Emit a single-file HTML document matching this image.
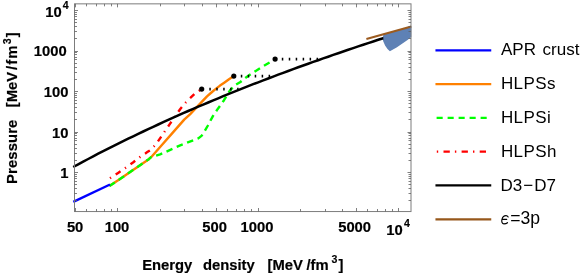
<!DOCTYPE html>
<html><head><meta charset="utf-8"><style>
html,body{margin:0;padding:0;background:#fff;}
svg{display:block;will-change:transform;}
text{font-family:"Liberation Sans",sans-serif;fill:#000;}
.b{font-weight:bold;font-size:14.8px;stroke:#000;stroke-width:0.18px;}
.s{font-weight:bold;font-size:10.6px;stroke:#000;stroke-width:0.15px;}
.l{font-size:17.0px;}
</style></head><body>
<svg width="581" height="274" viewBox="0 0 581 274">
<rect width="581" height="274" fill="#fff"/>
<!-- region -->
<polygon points="383.6,34.0 382.8,37.4 383.1,40.9 385.2,45.8 387.5,48.9 389.9,51.3 392.1,50.0 396.6,47.4 402.8,43.2 407.5,39.9 411.3,36.9 411.3,26.2" fill="#5E81B5"/>
<!-- curves -->
<polyline points="109.4,186.1 119.6,179.3 134.2,169.2 148.8,159.2 151.1,157.2 162.1,144.7 173.0,132.4 184.2,119.6 190.0,114.3 200.1,103.7 207.0,96.4 212.0,92.0 216.1,88.6 220.0,85.6 224.2,82.7 229.0,79.3 233.8,76.1" fill="none" stroke="#FF8000" stroke-width="2.4" stroke-linejoin="round"/>
<polyline points="109.4,186.1 119.6,179.3 134.2,169.2 148.8,159.2 151.1,157.2 160.1,154.4 180.2,145.4 198.3,138.4 201.5,135.9 203.7,132.7 207.6,126.0 212.9,116.1 216.9,110.2 224.0,100.2 230.0,90.3 234.6,85.5 240.4,82.0 246.0,77.4 260.1,68.1 275.1,59.1" fill="none" stroke="#00FF00" stroke-width="2.4" stroke-dasharray="6.5 4.7" stroke-linejoin="round"/>
<polyline points="110.0,178.2 118.1,172.9 125.4,167.9 133.0,162.5 140.0,157.0 147.3,152.1 150.0,150.3 156.1,144.1 170.1,123.6 180.1,109.2 186.0,102.2 190.0,98.2 195.1,93.4 201.7,89.1" fill="none" stroke="#FF0000" stroke-width="2.4" stroke-dasharray="1.2 5.6 5.8 5.4" stroke-linejoin="round"/>
<polyline points="73.3,201.8 110.0,184.5" fill="none" stroke="#0000FF" stroke-width="2.4"/>
<polyline points="73.2,167.0 78.2,164.3 83.2,161.6 88.2,159.0 93.2,156.3 98.2,153.7 103.2,151.2 108.2,148.6 113.2,146.1 118.2,143.6 123.2,141.2 128.2,138.7 133.2,136.3 138.2,133.9 143.2,131.5 148.2,129.1 153.2,126.8 158.2,124.5 163.2,122.2 168.2,119.9 173.2,117.7 178.2,115.4 183.2,113.2 188.2,111.0 193.2,108.9 198.2,106.7 203.2,104.6 208.2,102.5 213.2,100.4 218.2,98.3 223.2,96.2 228.2,94.2 233.2,92.2 238.2,90.2 243.2,88.2 248.2,86.2 253.2,84.2 258.2,82.3 263.2,80.4 268.2,78.5 273.2,76.6 278.2,74.7 283.2,72.8 288.2,71.0 293.2,69.1 298.2,67.3 303.2,65.5 308.2,63.7 313.2,61.9 318.2,60.2 323.2,58.4 328.2,56.7 333.2,54.9 338.2,53.2 343.2,51.5 348.2,49.8 353.2,48.1 358.2,46.4 363.2,44.8 368.2,43.1 373.2,41.5 378.2,39.8 383.2,38.2 383.3,38.2" fill="none" stroke="#000" stroke-width="2.5" stroke-linejoin="round"/>
<polyline points="366.4,39.1 411.3,26.4" fill="none" stroke="#9C5B1F" stroke-width="2.1"/>
<!-- dotted -->
<g stroke="#000" stroke-width="2.8" stroke-dasharray="1.5 5.45" fill="none">
<path d="M209.3 89.1H239"/>
<path d="M240.8 76.1H271"/>
<path d="M281.8 59.1H319"/>
</g>
<circle cx="201.7" cy="89.1" r="2.6"/><circle cx="233.8" cy="76.1" r="2.6"/><circle cx="275.1" cy="59.1" r="2.6"/>
<!-- frame -->
<rect x="74.5" y="3.85" width="336.5" height="207.7" fill="none" stroke="#7c7c7c" stroke-width="1"/>
<path d="M75.50 211.5v-3.5M75.50 3.85v3.5M117.50 211.5v-3.5M117.50 3.85v3.5M216.50 211.5v-3.5M216.50 3.85v3.5M258.50 211.5v-3.5M258.50 3.85v3.5M356.50 211.5v-3.5M356.50 3.85v3.5M398.50 211.5v-3.5M398.50 3.85v3.5M86.50 211.5v-2.5M86.50 3.85v2.5M96.50 211.5v-2.5M96.50 3.85v2.5M104.50 211.5v-2.5M104.50 3.85v2.5M111.50 211.5v-2.5M111.50 3.85v2.5M160.50 211.5v-2.5M160.50 3.85v2.5M184.50 211.5v-2.5M184.50 3.85v2.5M202.50 211.5v-2.5M202.50 3.85v2.5M227.50 211.5v-2.5M227.50 3.85v2.5M236.50 211.5v-2.5M236.50 3.85v2.5M244.50 211.5v-2.5M244.50 3.85v2.5M251.50 211.5v-2.5M251.50 3.85v2.5M300.50 211.5v-2.5M300.50 3.85v2.5M325.50 211.5v-2.5M325.50 3.85v2.5M342.50 211.5v-2.5M342.50 3.85v2.5M367.50 211.5v-2.5M367.50 3.85v2.5M377.50 211.5v-2.5M377.50 3.85v2.5M385.50 211.5v-2.5M385.50 3.85v2.5M392.50 211.5v-2.5M392.50 3.85v2.5M74.5 172.50h3.5M411.0 172.50h-3.5M74.5 132.50h3.5M411.0 132.50h-3.5M74.5 91.50h3.5M411.0 91.50h-3.5M74.5 51.50h3.5M411.0 51.50h-3.5M74.5 10.50h3.5M411.0 10.50h-3.5M74.5 200.50h2.5M411.0 200.50h-2.5M74.5 193.50h2.5M411.0 193.50h-2.5M74.5 188.50h2.5M411.0 188.50h-2.5M74.5 184.50h2.5M411.0 184.50h-2.5M74.5 181.50h2.5M411.0 181.50h-2.5M74.5 178.50h2.5M411.0 178.50h-2.5M74.5 176.50h2.5M411.0 176.50h-2.5M74.5 174.50h2.5M411.0 174.50h-2.5M74.5 160.50h2.5M411.0 160.50h-2.5M74.5 153.50h2.5M411.0 153.50h-2.5M74.5 148.50h2.5M411.0 148.50h-2.5M74.5 144.50h2.5M411.0 144.50h-2.5M74.5 140.50h2.5M411.0 140.50h-2.5M74.5 138.50h2.5M411.0 138.50h-2.5M74.5 135.50h2.5M411.0 135.50h-2.5M74.5 133.50h2.5M411.0 133.50h-2.5M74.5 119.50h2.5M411.0 119.50h-2.5M74.5 112.50h2.5M411.0 112.50h-2.5M74.5 107.50h2.5M411.0 107.50h-2.5M74.5 103.50h2.5M411.0 103.50h-2.5M74.5 100.50h2.5M411.0 100.50h-2.5M74.5 97.50h2.5M411.0 97.50h-2.5M74.5 95.50h2.5M411.0 95.50h-2.5M74.5 93.50h2.5M411.0 93.50h-2.5M74.5 79.50h2.5M411.0 79.50h-2.5M74.5 72.50h2.5M411.0 72.50h-2.5M74.5 67.50h2.5M411.0 67.50h-2.5M74.5 63.50h2.5M411.0 63.50h-2.5M74.5 59.50h2.5M411.0 59.50h-2.5M74.5 57.50h2.5M411.0 57.50h-2.5M74.5 54.50h2.5M411.0 54.50h-2.5M74.5 52.50h2.5M411.0 52.50h-2.5M74.5 38.50h2.5M411.0 38.50h-2.5M74.5 31.50h2.5M411.0 31.50h-2.5M74.5 26.50h2.5M411.0 26.50h-2.5M74.5 22.50h2.5M411.0 22.50h-2.5M74.5 19.50h2.5M411.0 19.50h-2.5M74.5 16.50h2.5M411.0 16.50h-2.5M74.5 14.50h2.5M411.0 14.50h-2.5M74.5 12.50h2.5M411.0 12.50h-2.5" stroke="#606060" stroke-width="0.8" fill="none"/>
<!-- x tick labels -->
<g class="b" text-anchor="middle">
<text transform="translate(75.1 232.3) scale(1 1.05)">50</text>
<text transform="translate(117.0 232.3) scale(1 1.05)">100</text>
<text transform="translate(214.7 232.3) scale(1 1.05)">500</text>
<text transform="translate(257.0 232.3) scale(1 1.05)">1000</text>
<text transform="translate(354.6 232.3) scale(1 1.05)">5000</text>
</g>
<text class="b" transform="translate(386.3 235.1) scale(1 1.05)">10</text><text class="s" transform="translate(404.0 227.2) scale(1 1.05)">4</text>
<!-- y tick labels -->
<g class="b" text-anchor="end">
<text transform="translate(66.6 56.4) scale(1 1.05)">1000</text>
<text transform="translate(68.4 97.1) scale(1 1.05)">100</text>
<text transform="translate(68.4 137.6) scale(1 1.05)">10</text>
<text transform="translate(68.4 178.2) scale(1 1.05)">1</text>
</g>
<text class="b" transform="translate(45.3 17.1) scale(1 1.05)">10</text><text class="s" transform="translate(62.8 9.2) scale(1 1.05)">4</text>
<!-- x label -->
<g class="b">
<text transform="translate(142.2 270.2) scale(1 1.05)">Energy</text>
<text transform="translate(203.0 270.2) scale(1 1.05)">density</text>
<text transform="translate(267.6 270.2) scale(1 1.05)">[MeV</text>
<text transform="translate(306.5 270.2) scale(1 1.05)">/fm</text>
<text class="s" transform="translate(331.6 263.0) scale(1 1.05)">3</text>
<text transform="translate(338.4 270.2) scale(1 1.05)">]</text>
</g>
<!-- y label -->
<g class="b" transform="translate(17.1 183.9) rotate(-90)">
<text transform="translate(0 0) scale(1 1.05)" letter-spacing="0.13">Pressure</text>
<text transform="translate(76.7 0) scale(1 1.05)">[MeV</text>
<text transform="translate(114.0 0) scale(1 1.05)" letter-spacing="1">/fm</text>
<text class="s" transform="translate(139.6 -6.2) scale(1 1.05)">3</text>
<text transform="translate(146.6 0) scale(1 1.05)">]</text>
</g>
<!-- legend -->
<g fill="none" stroke-width="2.3">
<path d="M436.6 50.4H490.1" stroke="#0000FF" stroke-linecap="square"/>
<path d="M436.6 84.2H490.1" stroke="#FF8000" stroke-linecap="square"/>
<path d="M436.6 117.9H490.1" stroke="#00FF00" stroke-dasharray="6.1 4.9"/>
<path d="M436.8 151.6H490.1" stroke="#FF0000" stroke-dasharray="1.4 5.3 6.3 5.1"/>
<path d="M436.6 185.4H490.1" stroke="#000" stroke-linecap="square"/>
<path d="M436.6 219.3H490.1" stroke="#96571B" stroke-linecap="square"/>
</g>
<g class="l">
<text x="501.0" y="55.1">APR<tspan x="542.6">crust</tspan></text>
<text x="500.9" y="88.8" letter-spacing="0.4">HLPSs</text>
<text x="500.9" y="123.0" letter-spacing="0.4">HLPSi</text>
<text x="500.9" y="156.6" letter-spacing="0.4">HLPSh</text>
<text x="500.5" y="190.6">D3<tspan dx="1">&#8722;</tspan><tspan dx="1">D7</tspan></text>
<text x="510.2" y="223.8" font-size="17.6">=3p</text>
<path d="M508.2 217.0C507.6 216.0 506.9 215.65 506.0 215.65C504.4 215.65 502.6 217.0 501.95 219.4C501.3 221.8 502.2 223.8 503.9 223.8C505.3 223.8 506.6 223.4 507.5 222.7M502.1 219.4H506.7" fill="none" stroke="#000" stroke-width="1.15" stroke-linecap="round"/>
</g>
</svg>
</body></html>
